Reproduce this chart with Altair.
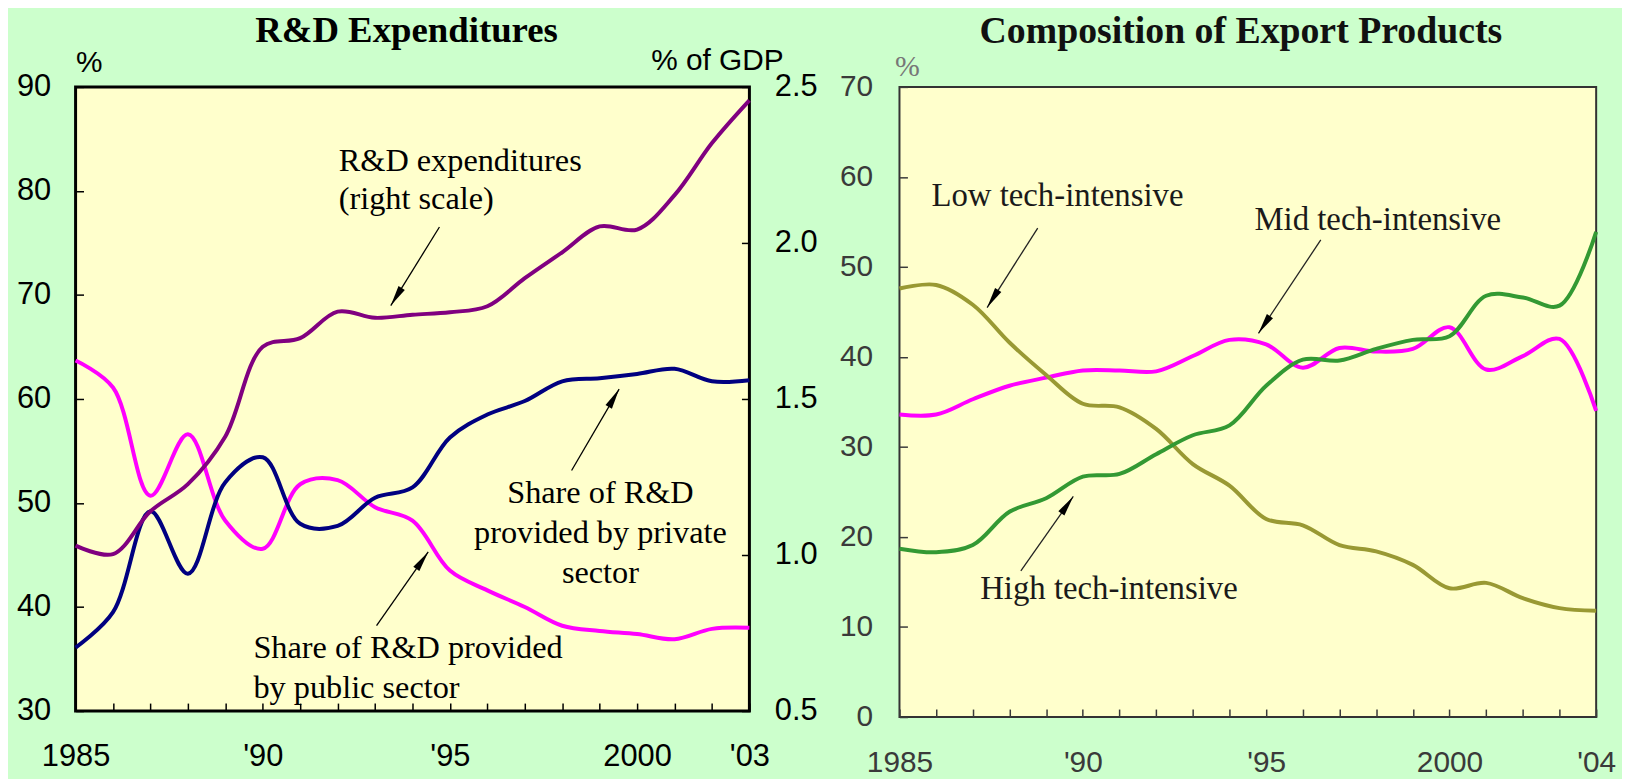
import math
import altair as alt
import pandas as pd

# ---------------- data ----------------
years_rd = list(range(1985, 2004))
private_share = [36.1, 39.5, 49.2, 43.2, 52.0, 54.4, 48.0, 47.8, 50.5, 51.5,
                 56.3, 58.5, 59.8, 61.7, 62.0, 62.4, 62.9, 61.7, 61.8]
public_share = [63.7, 61.1, 50.7, 56.6, 48.3, 45.6, 51.8, 52.2, 49.6, 48.3,
                43.5, 41.6, 40.0, 38.2, 37.7, 37.4, 36.9, 37.9, 38.0]
rd_gdp = [1.03, 1.003, 1.14, 1.227, 1.38, 1.667, 1.695, 1.78, 1.76, 1.77,
          1.778, 1.797, 1.887, 1.97, 2.053, 2.043, 2.153, 2.32, 2.457]

years_ex = list(range(1985, 2005))
low_tech = [47.6, 48.0, 45.8, 41.6, 38.0, 34.8, 34.4, 32.0, 28.1, 25.7,
            22.0, 21.3, 19.1, 18.4, 16.9, 14.3, 14.9, 13.2, 12.1, 11.8]
mid_tech = [33.6, 33.6, 35.3, 36.8, 37.7, 38.5, 38.5, 38.4, 40.1, 41.9,
            41.4, 38.8, 41.0, 40.6, 40.9, 43.3, 38.6, 40.1, 42.0, 34.0]
high_tech = [18.7, 18.3, 19.1, 22.8, 24.3, 26.7, 27.0, 29.2, 31.3, 32.4,
             36.8, 39.7, 39.6, 40.9, 41.9, 42.3, 46.8, 46.6, 45.7, 53.9]

# annotations (year, value)
rd_labels = [
    ("R&D expenditures", 1992.03, 81.9, "left"),
    ("(right scale)", 1992.03, 78.25, "left"),
    ("Share of R&D", 1999.02, 49.97, "center"),
    ("provided by private", 1999.02, 46.15, "center"),
    ("sector", 1999.02, 42.32, "center"),
    ("Share of R&D provided", 1989.75, 35.06, "left"),
    ("by public sector", 1989.75, 31.24, "left"),
]
# arrows: tail year, tail value, tip year, tip value
rd_arrows = [
    (1994.72, 76.53, 1993.42, 68.98),
    (1998.25, 53.12, 1999.52, 60.95),
    (1993.04, 38.22, 1994.42, 45.29),
]
ex_labels = [
    ("Low tech-intensive", 1985.87, 56.75, "left"),
    ("Mid tech-intensive", 1994.68, 54.1, "left"),
    ("High tech-intensive", 1987.2, 13.14, "left"),
]
ex_arrows = [
    (1988.77, 54.32, 1987.39, 45.49),
    (1996.49, 53.0, 1994.79, 42.62),
    (1988.31, 16.23, 1989.74, 24.51),
]

# ---------------- layout ----------------
W1, H1 = 678, 628
W2, H2 = 701, 634
LX1, LY1 = [1985, 2003], [30, 90]
LX2, LY2 = [1985, 2004], [0, 70]

ARROW = "M0,0L0.34,1.9L-0.34,1.9Z"


def arrow_frames(arrows, w, h, xd, yd):
    sx = w / (xd[1] - xd[0])
    sy = h / (yd[1] - yd[0])
    rows, heads = [], []
    for (x0, y0, x1, y1) in arrows:
        dx = (x1 - x0) * sx
        dy = -(y1 - y0) * sy
        ang = math.degrees(math.atan2(dx, -dy)) % 360
        rows.append({"year": x0, "val": y0, "year2": x1, "val2": y1})
        heads.append({"year": x1, "val": y1, "ang": ang})
    return pd.DataFrame(rows), pd.DataFrame(heads)


def year_expr(last_label, last_year):
    return ("datum.value == 1985 ? '1985' : datum.value == 1990 ? \"'90\" : "
            "datum.value == 1995 ? \"'95\" : datum.value == 2000 ? '2000' : "
            f"datum.value == {last_year} ? \"{last_label}\" : ''")


def x_axis(years, last_label, color, font_size):
    return alt.Axis(values=years, labelExpr=year_expr(last_label, years[-1]),
                    orient="bottom", offset=-8, tickSize=8, tickWidth=1.5,
                    tickColor=color, domain=False, grid=False, labelPadding=31,
                    labelFont="Liberation Sans", labelFontSize=font_size,
                    labelColor=color, labelOverlap=False, labelFlush=False,
                    title=None)


# ---------------- left panel ----------------
df_rd = pd.DataFrame({"year": years_rd, "private": private_share,
                      "public": public_share, "rd": rd_gdp})

xl = alt.X("year:Q", scale=alt.Scale(domain=LX1, nice=False, zero=False),
           axis=x_axis(years_rd, "'03", "black", 31))
yl_axis = alt.Axis(values=[30, 40, 50, 60, 70, 80, 90], orient="left",
                   offset=-8, tickSize=8, tickWidth=1.5, tickColor="black",
                   domain=False, grid=False, labelPadding=25,
                   labelFont="Liberation Sans", labelFontSize=31,
                   labelColor="black",
                   title="%", titleAngle=0, titleX=-8, titleY=-15,
                   titleAlign="left", titleBaseline="alphabetic",
                   titleFont="Liberation Sans", titleFontSize=30,
                   titleFontWeight="normal", titleColor="black")
yl_scale = alt.Scale(domain=LY1, nice=False, zero=False)


def yl(field):
    return alt.Y(f"{field}:Q", scale=yl_scale, axis=yl_axis)


line_kw = dict(strokeWidth=4, interpolate="catmull-rom")
navy = alt.Chart(df_rd).mark_line(color="#000080", **line_kw).encode(x=xl, y=yl("private"))
pink = alt.Chart(df_rd).mark_line(color="#ff00ff", **line_kw).encode(x=xl, y=yl("public"))

df_lab1 = pd.DataFrame([{"text": t, "year": x, "val": y, "al": a} for t, x, y, a in rd_labels])
txt_kw = dict(font="Liberation Serif", fontSize=32.5, color="black", baseline="alphabetic")
lab1_left = alt.Chart(df_lab1[df_lab1.al == "left"]).mark_text(align="left", **txt_kw).encode(
    x=xl, y=yl("val"), text="text:N")
lab1_center = alt.Chart(df_lab1[df_lab1.al == "center"]).mark_text(align="center", **txt_kw).encode(
    x=xl, y=yl("val"), text="text:N")

ar1, hd1 = arrow_frames(rd_arrows, W1, H1, LX1, LY1)
rules1 = alt.Chart(ar1).mark_rule(color="black", strokeWidth=1.3).encode(
    x=xl, y=yl("val"), x2="year2:Q", y2="val2:Q")
heads1 = alt.Chart(hd1).mark_point(shape=ARROW, filled=True, color="black",
                                   size=480, strokeWidth=0, opacity=1).encode(
    x=xl, y=yl("val"), angle=alt.Angle("ang:Q", scale=None))

left_group = alt.layer(pink, navy, rules1, heads1, lab1_left, lab1_center)

yr_axis = alt.Axis(values=[0.5, 1.0, 1.5, 2.0, 2.5], format=".1f", orient="right",
                   offset=-8, tickSize=8, tickWidth=1.5, tickColor="black",
                   domain=False, grid=False, labelPadding=25,
                   labelFont="Liberation Sans", labelFontSize=31,
                   labelColor="black",
                   title="% of GDP", titleAngle=0, titleX=42, titleY=-18,
                   titleAlign="right", titleBaseline="alphabetic",
                   titleFont="Liberation Sans", titleFontSize=30,
                   titleFontWeight="normal", titleColor="black")
purple = alt.Chart(df_rd).mark_line(color="#800080", **line_kw).encode(
    x=xl, y=alt.Y("rd:Q", scale=alt.Scale(domain=[0.5, 2.5], nice=False, zero=False),
                  axis=yr_axis))

left = alt.layer(left_group, purple).resolve_scale(y="independent").properties(
    width=W1, height=H1,
    title=alt.TitleParams("R&D Expenditures", font="Liberation Serif", fontSize=37,
                          fontWeight="bold", color="black", anchor="middle",
                          frame="group", baseline="alphabetic", offset=-34, dx=-6),
    view=alt.ViewBackground(fill="#ffffcc", stroke="black", strokeWidth=3),
)

# ---------------- right panel ----------------
df_ex = pd.DataFrame({"year": years_ex, "low": low_tech, "mid": mid_tech, "high": high_tech})
GREY = "#3a3a3a"
xr = alt.X("year:Q", scale=alt.Scale(domain=LX2, nice=False, zero=False),
           axis=x_axis(years_ex, "'04", GREY, 30))
yr2_axis = alt.Axis(values=[0, 10, 20, 30, 40, 50, 60, 70], orient="left",
                    offset=-8, tickSize=8, tickWidth=1.5, tickColor=GREY,
                    domain=False, grid=False, labelPadding=27,
                    labelFont="Liberation Sans", labelFontSize=30,
                    labelColor=GREY,
                    title="%", titleAngle=0, titleX=-13, titleY=-11,
                    titleAlign="left", titleBaseline="alphabetic",
                    titleFont="Liberation Serif", titleFontSize=30,
                    titleFontWeight="normal", titleColor="#777777")
yr2_scale = alt.Scale(domain=LY2, nice=False, zero=False)


def yr2(field):
    return alt.Y(f"{field}:Q", scale=yr2_scale, axis=yr2_axis)


olive = alt.Chart(df_ex).mark_line(color="#999933", **line_kw).encode(x=xr, y=yr2("low"))
green = alt.Chart(df_ex).mark_line(color="#339933", **line_kw).encode(x=xr, y=yr2("high"))
mag = alt.Chart(df_ex).mark_line(color="#ff00ff", **line_kw).encode(x=xr, y=yr2("mid"))

df_lab2 = pd.DataFrame([{"text": t, "year": x, "val": y} for t, x, y, a in ex_labels])
lab2 = alt.Chart(df_lab2).mark_text(align="left", font="Liberation Serif", fontSize=33,
                                    color="#1a1a1a", baseline="alphabetic").encode(
    x=xr, y=yr2("val"), text="text:N")
ar2, hd2 = arrow_frames(ex_arrows, W2, H2, LX2, LY2)
rules2 = alt.Chart(ar2).mark_rule(color="#222222", strokeWidth=1.3).encode(
    x=xr, y=yr2("val"), x2="year2:Q", y2="val2:Q")
heads2 = alt.Chart(hd2).mark_point(shape=ARROW, filled=True, color="black",
                                   size=480, strokeWidth=0, opacity=1).encode(
    x=xr, y=yr2("val"), angle=alt.Angle("ang:Q", scale=None))

right = alt.layer(mag, olive, green, rules2, heads2, lab2).properties(
    width=W2, height=H2,
    title=alt.TitleParams("Composition of Export Products", font="Liberation Serif",
                          fontSize=38, fontWeight="bold", color="#111111",
                          anchor="middle", frame="group", baseline="alphabetic",
                          offset=-29, dx=-7),
    view=alt.ViewBackground(fill="#ffffcc", stroke="#333333", strokeWidth=2),
)

chart = alt.hconcat(left, right, spacing=19).properties(
    padding={"left": 7, "top": 0, "right": 5, "bottom": 0}
).configure(background="#ccffcc")

chart.save("out.html", embed_options={"renderer": "svg", "actions": False})
